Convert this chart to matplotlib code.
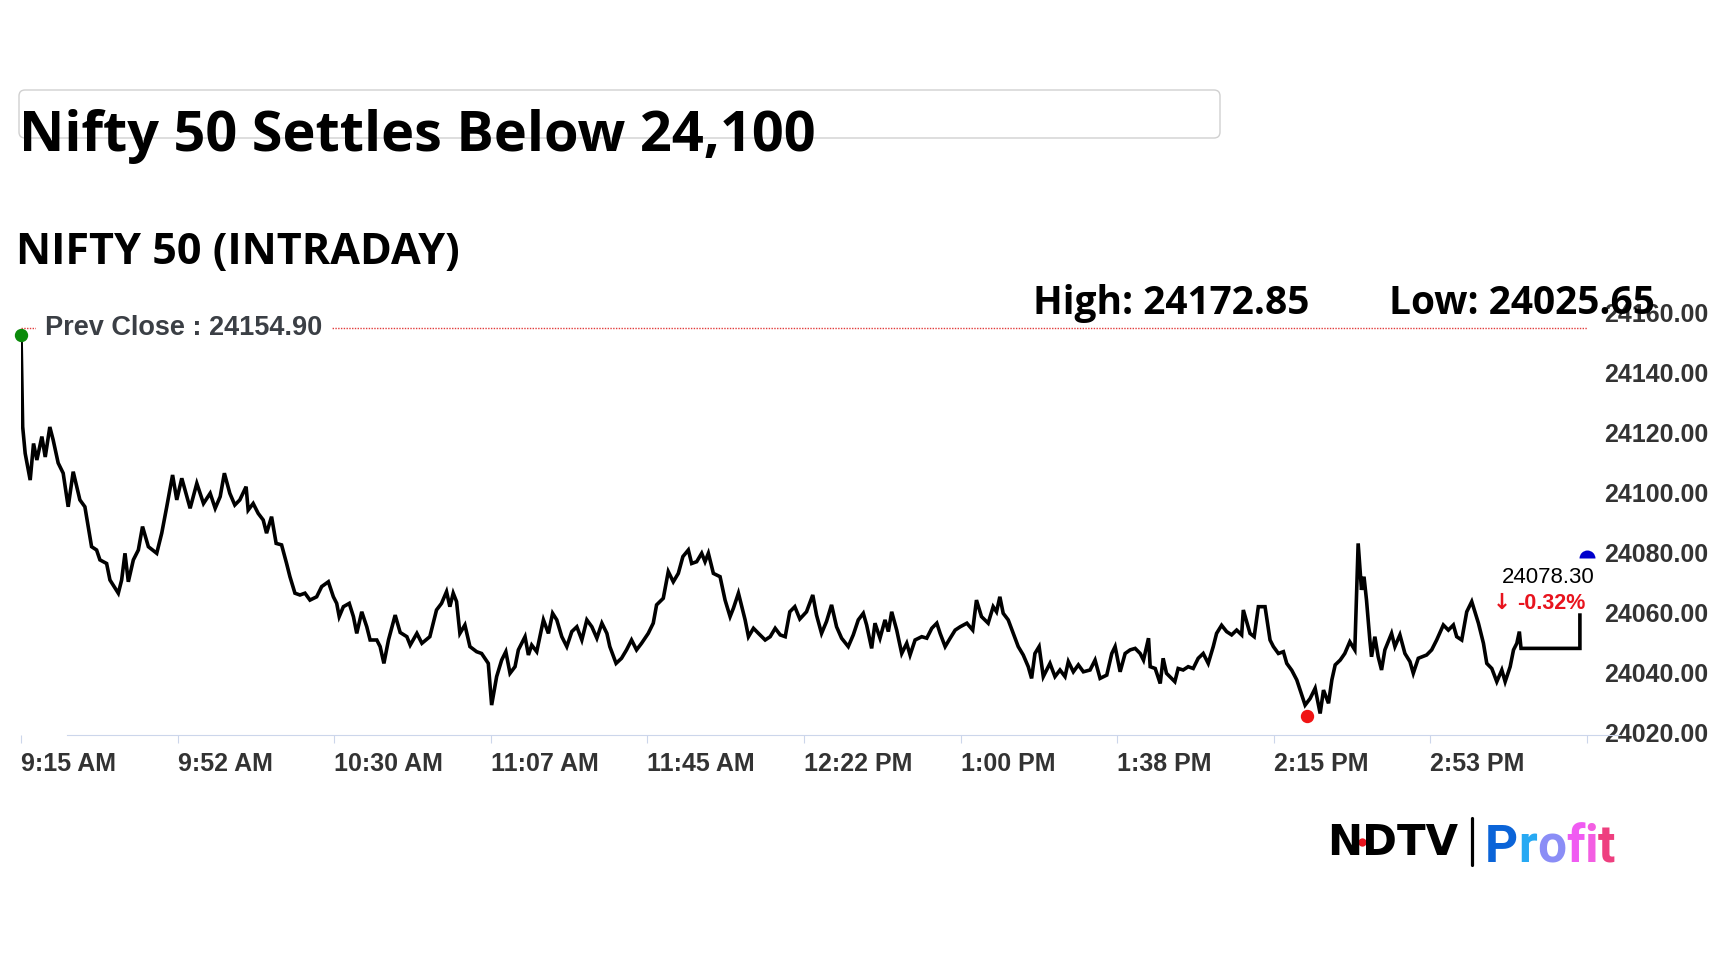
import matplotlib
matplotlib.use("Agg")
import matplotlib.pyplot as plt
import matplotlib.transforms as mtransforms
from matplotlib.patches import FancyBboxPatch
from matplotlib.lines import Line2D

W, H = 1728, 972

# intraday series: minutes after 9:15 AM, index level
minutes = [0.0, 0.4, 1.0, 2.2, 3.0, 3.8, 5.0, 5.8, 6.9, 7.7, 8.9, 10.1, 11.3, 12.5, 14.1, 15.3,
           16.9, 18.1, 18.9, 20.5, 21.3, 23.3, 24.1, 24.9, 25.7, 26.9, 28.1, 29.1, 30.5, 32.5,
           33.7, 34.9, 36.3, 37.3, 38.5, 40.5, 42.1, 43.7, 45.3, 46.5, 47.7, 48.7, 50.0, 51.2,
           52.4, 53.9, 54.4, 55.6, 56.8, 58.0, 58.8, 60.0, 61.1, 62.4, 63.6, 64.4, 65.6, 66.8,
           68.0, 69.2, 70.8, 72.0, 73.6, 74.8, 75.6, 76.2, 77.2, 78.6, 79.6, 80.4, 81.6, 82.8,
           83.6, 85.2, 86.0, 86.9, 88.0, 89.6, 90.8, 92.4, 93.2, 94.8, 96.0, 97.9, 99.5, 100.7,
           101.9, 102.7, 103.5, 104.3, 105.1, 106.3, 107.5, 109.1, 110.3, 111.9, 112.7, 113.9,
           115.1, 116.1, 117.1, 118.3, 119.1, 120.7, 121.5, 122.3, 123.5, 125.1, 126.3, 127.3,
           128.3, 129.5, 130.7, 131.9, 133.1, 134.3, 135.5, 136.7, 137.9, 139.1, 140.3, 141.0,
           142.5, 143.8, 145.0, 146.2, 147.4, 148.6, 150.2, 151.4, 152.2, 153.8, 155.0, 156.2,
           157.4, 158.5, 159.8, 160.6, 161.8, 163.0, 163.8, 164.6, 165.8, 167.4, 168.6, 169.8,
           170.6, 171.8, 172.6, 173.4, 174.2, 175.4, 176.6, 178.2, 179.4, 180.6, 181.8, 183.0,
           184.1, 185.3, 186.5, 188.1, 189.6, 190.5, 191.7, 192.9, 194.1, 195.3, 196.5, 198.1,
           199.3, 200.5, 201.7, 202.5, 203.7, 204.5, 205.7, 206.9, 207.7, 208.5, 209.7, 210.9,
           212.1, 212.9, 214.1, 215.7, 216.9, 218.1, 219.3, 220.1, 221.3, 222.5, 223.7, 224.9,
           226.5, 227.9, 228.8, 230.0, 231.6, 232.8, 233.6, 234.4, 235.2, 236.4, 237.6, 238.8,
           240.0, 241.2, 242.0, 242.8, 243.8, 244.8, 246.4, 247.6, 248.8, 250.0, 250.8, 252.0,
           253.2, 254.4, 256.0, 257.2, 258.4, 260.0, 261.2, 262.0, 263.2, 264.4, 265.6, 266.8,
           268.0, 268.8, 270.0, 270.4, 271.6, 272.8, 273.5, 274.3, 275.5, 276.3, 277.1, 278.3,
           279.5, 280.7, 281.9, 283.1, 284.3, 285.5, 286.3, 287.5, 288.7, 289.9, 291.1, 292.3,
           292.7, 293.5, 294.3, 295.3, 296.3, 297.9, 299.1, 299.9, 301.1, 302.3, 303.1, 304.3,
           305.5, 306.7, 307.5, 308.7, 309.9, 311.1, 311.9, 313.1, 313.9, 314.7, 315.9, 317.0,
           318.2, 319.4, 320.2, 321.0, 321.6, 322.2, 323.0, 323.4, 324.2, 325.0, 325.8, 326.6,
           328.2, 329.0, 330.2, 331.4, 332.6, 333.4, 334.6, 336.6, 337.8, 339.0, 340.6, 341.8,
           343.0, 343.8, 345.0, 346.2, 347.4, 349.0, 350.2, 351.0, 352.2, 353.4, 354.6, 355.4,
           356.6, 357.4, 358.2, 358.8, 359.2, 373.3, 373.3]
prices = [24152.7, 24122.1, 24113.2, 24104.3, 24116.5, 24111.0, 24118.8, 24112.0, 24122.0, 24117.7,
          24110.0, 24106.6, 24095.4, 24107.1, 24097.7, 24095.4, 24082.1, 24081.0, 24077.7, 24076.5,
          24071.0, 24066.6, 24071.0, 24079.9, 24070.4, 24077.7, 24081.0, 24088.8, 24082.1, 24079.9,
          24086.6, 24095.4, 24106.0, 24097.7, 24104.9, 24094.9, 24103.2, 24096.5, 24099.9, 24094.9,
          24098.8, 24106.6, 24099.9, 24096.0, 24097.7, 24102.1, 24094.3, 24096.5, 24093.2, 24091.0,
          24086.6, 24092.1, 24083.2, 24082.7, 24076.5, 24072.1, 24066.6, 24066.0, 24066.6, 24064.3,
          24065.4, 24068.8, 24070.4, 24065.4, 24063.2, 24058.8, 24062.1, 24063.2, 24058.8, 24053.2,
          24060.4, 24055.4, 24051.0, 24051.0, 24048.8, 24043.2, 24051.0, 24059.3, 24053.5, 24052.1,
          24049.3, 24053.2, 24049.9, 24052.1, 24061.0, 24063.2, 24067.1, 24062.1, 24066.6, 24063.8,
          24053.2, 24056.0, 24048.8, 24047.1, 24046.5, 24043.2, 24029.3, 24038.8, 24044.3, 24047.1,
          24039.9, 24042.1, 24047.7, 24052.1, 24046.0, 24049.3, 24047.1, 24057.7, 24053.2, 24059.9,
          24057.7, 24052.1, 24048.8, 24053.8, 24055.4, 24051.0, 24057.7, 24055.4, 24051.6, 24056.6,
          24053.2, 24048.8, 24043.2, 24044.9, 24047.7, 24051.0, 24047.7, 24049.9, 24053.2, 24056.6,
          24062.7, 24064.9, 24073.8, 24070.4, 24073.2, 24078.8, 24081.0, 24076.5, 24077.1, 24079.9,
          24077.1, 24079.9, 24073.2, 24072.1, 24064.3, 24058.8, 24061.6, 24066.6, 24062.1, 24057.7,
          24052.1, 24054.9, 24053.2, 24051.0, 24052.1, 24054.9, 24052.7, 24052.1, 24060.4, 24062.1,
          24058.0, 24060.4, 24066.0, 24059.3, 24053.2, 24057.2, 24062.7, 24055.4, 24051.6, 24048.8,
          24052.7, 24057.7, 24059.9, 24056.0, 24048.2, 24056.6, 24051.6, 24057.7, 24053.8, 24060.4,
          24054.3, 24046.5, 24049.9, 24046.0, 24051.0, 24052.1, 24051.6, 24054.9, 24056.6, 24053.2,
          24048.8, 24051.6, 24054.3, 24055.4, 24056.6, 24054.3, 24064.3, 24058.8, 24056.6, 24062.1,
          24060.4, 24065.4, 24059.9, 24057.7, 24053.2, 24048.8, 24046.0, 24042.1, 24038.2, 24046.5,
          24048.8, 24038.8, 24043.2, 24038.8, 24041.0, 24038.8, 24043.8, 24040.4, 24042.7, 24040.4,
          24041.0, 24044.3, 24038.2, 24039.3, 24046.5, 24048.8, 24040.4, 24046.5, 24047.7, 24048.2,
          24046.5, 24044.3, 24051.6, 24042.1, 24041.5, 24036.5, 24044.9, 24039.9, 24038.2, 24037.1,
          24041.5, 24041.0, 24042.1, 24041.5, 24044.9, 24046.5, 24043.2, 24048.8, 24053.2, 24055.9,
          24053.8, 24052.7, 24054.3, 24052.7, 24061.0, 24057.1, 24053.2, 24052.1, 24062.1, 24062.1,
          24051.0, 24048.8, 24046.5, 24047.1, 24043.2, 24040.9, 24037.7, 24032.7, 24029.3, 24031.5,
          24034.9, 24026.5, 24034.3, 24029.9, 24037.7, 24042.7, 24044.3, 24046.5, 24050.4, 24047.7,
          24083.2, 24067.7, 24072.1, 24064.3, 24051.0, 24045.4, 24052.1, 24045.4, 24041.0, 24047.7,
          24053.2, 24048.8, 24052.7, 24046.5, 24043.8, 24039.9, 24044.9, 24046.0, 24047.7, 24051.0,
          24056.0, 24054.3, 24056.0, 24052.1, 24051.0, 24060.4, 24063.8, 24056.6, 24049.9, 24043.2,
          24041.5, 24037.1, 24041.0, 24037.1, 24042.1, 24047.7, 24049.9, 24053.8, 24048.2, 24048.2,
          24059.3]

prev_close = 24154.90
day_high = 24172.85
day_low = 24025.65
low_minute = 307.9
last_price = 24078.30
change_pct = -0.32

tick_minutes = [0, 37.5, 75, 112.5, 150, 187.5, 225, 262.5, 300, 337.5, 375]
tick_labels = ["9:15 AM", "9:52 AM", "10:30 AM", "11:07 AM", "11:45 AM", "12:22 PM",
               "1:00 PM", "1:38 PM", "2:15 PM", "2:53 PM", ""]
price_ticks = [24020, 24040, 24060, 24080, 24100, 24120, 24140, 24160]

hc_font = ["Liberation Sans", "DejaVu Sans"]
head_font = ["Liberation Sans Narrow", "Open Sans", "DejaVu Sans"]
label_col = "#333333"
axis_col = "#ccd6eb"


def fx(x):
    return x / W


def fy(y):
    return 1 - y / H


fig = plt.figure(figsize=(W / 100, H / 100), dpi=100)
fig.patch.set_facecolor("white")
renderer = fig.canvas.get_renderer()


def fit_width(t, target):
    # scale font so the text spans target pixels
    w = t.get_window_extent(renderer).width
    t.set_fontsize(t.get_fontsize() * target / w)


ax = fig.add_axes([fx(21), fy(735), (1587 - 21) / W, (735 - 300) / H])
ax.set_xlim(0, 375)
ax.set_ylim(24019.33, 24164.33)
for s in ax.spines.values():
    s.set_visible(False)

ax.plot(minutes, prices, color="black", linewidth=2.6, solid_joinstyle="miter", zorder=3)
ax.axhline(prev_close, color="#e23b3b", linewidth=1, linestyle=(0, (1, 1)), zorder=2)
ax.text(5.8, prev_close, f"Prev Close : {prev_close:.2f}", fontsize=19.5, fontweight="bold",
        family=hc_font, color="#3b3f45", va="center", ha="left", zorder=4,
        bbox=dict(boxstyle="square,pad=0.35", fc="white", ec="none"))

ax.plot(minutes[0], prices[0], "o", color="#0a8a0a", ms=8.6, clip_on=False, zorder=5)
ax.plot(low_minute, day_low, "o", color="#f01414", ms=8.6, clip_on=False, zorder=5)
ax.plot(375, last_price, marker="o", ms=11.5, fillstyle="top", color="#0000cc",
        markerfacecoloralt="none", mew=0, clip_on=False, zorder=5)

ax.set_xticks(tick_minutes, tick_labels)
for lab in ax.get_xticklabels():
    lab.set_horizontalalignment("left")
    lab.set_fontfamily(hc_font)
    lab.set_fontweight("bold")
ax.tick_params(axis="x", length=5.8, width=0.8, color=axis_col, pad=6.5,
               labelsize=18, labelcolor=label_col)

ax.yaxis.tick_right()
ax.set_yticks(price_ticks, [f"{v:.2f}" for v in price_ticks])
for lab in ax.get_yticklabels():
    lab.set_fontfamily(hc_font)
    lab.set_fontweight("bold")
ax.tick_params(axis="y", length=0, pad=12.2, labelsize=18, labelcolor=label_col)

pix = mtransforms.IdentityTransform()
fig.add_artist(Line2D([67, 1620], [H - 735, H - 735], color=axis_col, lw=0.8, transform=pix))

# header
box = FancyBboxPatch((19, H - 138), 1201, 48, boxstyle="round,pad=0,rounding_size=6",
                     fill=False, ec="#d0d0d0", lw=1, transform=pix)
fig.add_artist(box)
t = fig.text(fx(19), fy(151), "Nifty 50 Settles Below 24,100", family=head_font,
             fontweight="bold", fontsize=40, va="baseline", ha="left")
fit_width(t, 796)
t = fig.text(fx(16), fy(264), "NIFTY 50 (INTRADAY)", family=head_font,
             fontweight="bold", fontsize=30, va="baseline", ha="left")
fit_width(t, 444)
t = fig.text(fx(1033), fy(314), f"High: {day_high:.2f}", family=head_font,
             fontweight="bold", fontsize=24, va="baseline", ha="left", zorder=6)
fit_width(t, 277)
t = fig.text(fx(1389), fy(314), f"Low: {day_low:.2f}", family=head_font,
             fontweight="bold", fontsize=24, va="baseline", ha="left", zorder=6)
fit_width(t, 267)

# last price tag
fig.text(fx(1595), fy(583), f"{last_price:.2f}", family=hc_font, fontsize=16,
         color="black", va="baseline", ha="right")
fig.text(fx(1586), fy(609), f"{change_pct:.2f}%", family=hc_font, fontsize=15.5,
         fontweight="bold", color="#e8141e", va="baseline", ha="right")
fig.text(fx(1511), fy(609), "\u2193", family=["DejaVu Sans"], fontsize=15.5,
         fontweight="bold", color="#e8141e", va="baseline", ha="right")

# logo
t = fig.text(fx(1327), fy(855), "NDTV", family=["DejaVu Sans"], fontweight="bold",
             fontsize=26, va="baseline", ha="left")
fit_width(t, 131)
fig.add_artist(Line2D([1362], [H - 842], marker="o", ms=6, color="#e8141e", mew=0,
                      transform=pix))
fig.add_artist(Line2D([1472, 1472], [H - 818, H - 865], color="black", lw=2.3,
                      solid_capstyle="round", transform=pix))
profit_cols = ["#0b64d8", "#27a9f3", "#8a8df6", "#f05bf2", "#f35ee2", "#ee3f7f"]
prev = fig.text(fx(1485), fy(862), "P", family=["Roboto", "DejaVu Sans"], fontweight="bold",
                fontsize=37, color=profit_cols[0], va="baseline", ha="left")
for ch, col in zip("rofit", profit_cols[1:]):
    prev = ax.annotate(ch, xy=(1, 0), xycoords=prev, xytext=(0, 0), textcoords="offset points",
                       family=["Roboto", "DejaVu Sans"], fontweight="bold", fontsize=37,
                       color=col, va="bottom", ha="left", annotation_clip=False)

fig.savefig("out.png", dpi=100, facecolor="white")
